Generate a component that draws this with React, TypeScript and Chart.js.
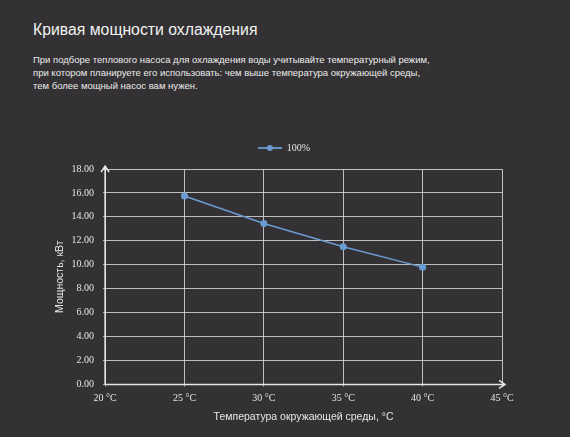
import React, { useEffect, useRef } from "react";
import { Chart, registerables } from "chart.js";

Chart.register(...registerables);

const temperatures = [25, 30, 35, 40];
const power100 = [15.75, 13.45, 11.5, 9.8];
const seriesName = "100%";
const xMin = 20;
const xMax = 45;
const xStep = 5;
const yMin = 0;
const yMax = 18;
const yStep = 2;
const titleText = "Кривая мощности охлаждения";
const paragraphLines = [
  "При подборе теплового насоса для охлаждения воды учитывайте температурный режим,",
  "при котором планируете его использовать: чем выше температура окружающей среды,",
  "тем более мощный насос вам нужен.",
];
const yAxisTitle = "Мощность, кВт";
const xAxisTitle = "Температура окружающей среды, °С";

const LINE_COLOR = "#6a9bd3";
const TEXT_COLOR = "#e6e6e6";
const GRID_COLOR = "rgba(215,215,215,0.85)";
const AXIS_COLOR = "#e8e8e8";
const BG = "#333133";

function legendIcon(): HTMLCanvasElement {
  const c = document.createElement("canvas");
  const dpr = window.devicePixelRatio || 1;
  c.width = 24 * dpr;
  c.height = 8 * dpr;
  c.style.width = "24px";
  c.style.height = "8px";
  const ctx = c.getContext("2d")!;
  ctx.scale(dpr, dpr);
  ctx.strokeStyle = LINE_COLOR;
  ctx.lineWidth = 1.8;
  ctx.beginPath();
  ctx.moveTo(0, 4);
  ctx.lineTo(24, 4);
  ctx.stroke();
  ctx.fillStyle = LINE_COLOR;
  ctx.beginPath();
  ctx.arc(12, 4, 3, 0, Math.PI * 2);
  ctx.fill();
  return c;
}

const legendGapPlugin = {
  id: "legendGap",
  beforeInit(chart: any) {
    const legend = chart.legend;
    if (!legend) return;
    const origFit = legend.fit;
    legend.fit = function () {
      origFit.call(this);
      this.height += 6;
    };
  },
  afterLayout(chart: any) {
    const legend = chart.legend;
    if (!legend) return;
    legend.left += 6;
    legend.right += 6;
  },
};

const arrowPlugin = {
  id: "axisArrows",
  afterDraw(chart: any) {
    const { ctx, chartArea } = chart;
    const { left, right, top, bottom } = chartArea;
    ctx.save();
    ctx.strokeStyle = AXIS_COLOR;
    ctx.lineWidth = 1.5;
    ctx.beginPath();
    ctx.moveTo(left, bottom);
    ctx.lineTo(left, top - 3);
    ctx.moveTo(left - 4, top + 3);
    ctx.lineTo(left, top - 3);
    ctx.lineTo(left + 4, top + 3);
    ctx.moveTo(left, bottom);
    ctx.lineTo(right + 3, bottom);
    ctx.moveTo(right - 3, bottom - 4);
    ctx.lineTo(right + 3, bottom);
    ctx.lineTo(right - 3, bottom + 4);
    ctx.stroke();
    ctx.restore();
  },
};

export default function App() {
  const ref = useRef<HTMLCanvasElement>(null);

  useEffect(() => {
    if (!ref.current) return;
    const icon = legendIcon();
    const chart = new Chart(ref.current, {
      type: "line",
      data: {
        datasets: [
          {
            label: seriesName,
            data: temperatures.map((t, i) => ({ x: t, y: power100[i] })),
            borderColor: LINE_COLOR,
            backgroundColor: LINE_COLOR,
            borderWidth: 1.5,
            pointRadius: 3.5,
            pointHoverRadius: 3.5,
            pointBorderWidth: 0,
            pointStyle: "circle",
            tension: 0,
          },
        ],
      },
      options: {
        animation: false,
        responsive: false,
        maintainAspectRatio: false,
        layout: { padding: { top: 127, left: 54, right: 68, bottom: 14 } },
        plugins: {
          tooltip: { enabled: false },
          legend: {
            position: "top",
            labels: {
              color: TEXT_COLOR,
              font: { family: "'Liberation Serif', serif", size: 10 },
              usePointStyle: true,
              pointStyleWidth: 24,
              padding: 16,
              generateLabels: () => [
                {
                  text: seriesName,
                  pointStyle: icon as any,
                  fillStyle: LINE_COLOR,
                  strokeStyle: LINE_COLOR,
                  fontColor: TEXT_COLOR,
                  hidden: false,
                  lineWidth: 0,
                  datasetIndex: 0,
                },
              ],
            },
          },
        },
        scales: {
          x: {
            type: "linear",
            min: xMin,
            max: xMax,
            ticks: {
              stepSize: xStep,
              color: TEXT_COLOR,
              font: { family: "'Liberation Serif', serif", size: 10 },
              padding: 6,
              callback: (v: any) => `${v} °C`,
            },
            grid: { color: GRID_COLOR, lineWidth: 1, drawTicks: true, tickLength: 2 },
            border: { display: false },
            title: {
              display: true,
              text: xAxisTitle,
              color: TEXT_COLOR,
              font: { family: "'Liberation Sans', Arial, sans-serif", size: 10.5 },
              padding: { top: 0, bottom: 0 },
            },
          },
          y: {
            type: "linear",
            min: yMin,
            max: yMax,
            ticks: {
              stepSize: yStep,
              color: TEXT_COLOR,
              font: { family: "'Liberation Serif', serif", size: 10 },
              padding: 9,
              callback: (v: any) => Number(v).toFixed(2),
            },
            grid: { color: GRID_COLOR, lineWidth: 1, drawTicks: true, tickLength: 2 },
            border: { display: false },
            title: {
              display: true,
              text: yAxisTitle,
              color: TEXT_COLOR,
              font: { family: "'Liberation Sans', Arial, sans-serif", size: 10.5 },
              padding: { top: 0, bottom: -4 },
            },
          },
        },
      },
      plugins: [legendGapPlugin, arrowPlugin],
    });
    return () => chart.destroy();
  }, []);

  return (
    <div
      style={{
        position: "absolute",
        left: 0,
        top: 0,
        width: 570,
        height: 437,
        background: BG,
        overflow: "hidden",
      }}
    >
      <div
        style={{
          position: "absolute",
          left: 33,
          top: 22,
          fontFamily: "'Liberation Sans', Arial, sans-serif",
          fontSize: 15.8,
          lineHeight: "16px",
          color: "#f2f2f2",
          whiteSpace: "nowrap",
        }}
      >
        {titleText}
      </div>
      <div
        style={{
          position: "absolute",
          left: 33,
          top: 53,
          fontFamily: "'Liberation Sans', Arial, sans-serif",
          fontSize: 9.5,
          lineHeight: "13px",
          color: "#ececec",
          whiteSpace: "nowrap",
        }}
      >
        {paragraphLines.map((l, i) => (
          <div key={i}>{l}</div>
        ))}
      </div>
      <canvas
        ref={ref}
        width={570}
        height={437}
        style={{ position: "absolute", left: 0, top: 0, width: 570, height: 437 }}
      />
    </div>
  );
}
